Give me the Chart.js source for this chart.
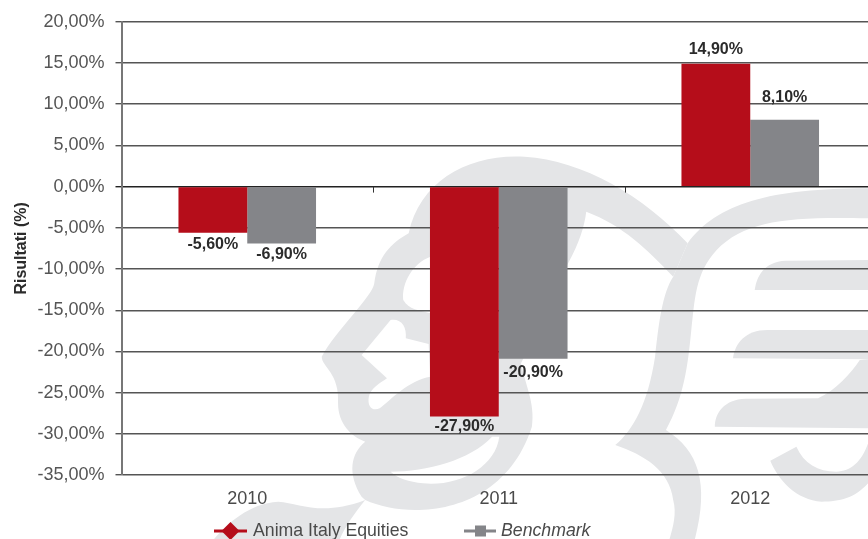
<!DOCTYPE html>
<html><head><meta charset="utf-8">
<style>html,body{margin:0;padding:0;background:#fff;overflow:hidden}#w{width:868px;height:539px;overflow:hidden;position:relative}canvas{display:block}</style>
<script src="https://cdn.jsdelivr.net/npm/chart.js@4"></script>
</head><body><div id="w"><canvas id="c" width="880" height="539" style="width:880px;height:539px"></canvas></div>
<script>
const categories = ['2010','2011','2012'];
const animaValues = [-5.6,-27.9,14.9];
const benchmarkValues = [-6.9,-20.9,8.1];
const seriesNames = ['Anima Italy Equities','Benchmark'];
const yMin = -35, yMax = 20, yStep = 5;
const RED = '#b50d1a', GREY = '#848589', FONT = '"Liberation Sans", Arial, sans-serif';
const fmt = v => v.toFixed(2).replace('.',',') + '%';

const watermark = {
  id:'watermark',
  beforeDraw(ch){
    const c = ch.ctx; c.save();
    c.translate(300,150); c.scale(1/2.76,1/3);
    const shape = (d,col)=>{c.fillStyle=col;c.fill(new Path2D(d));};
    const G='#e4e5e7', W='#ffffff';
    // head silhouette and lower band
    shape('M1070 280 C950 140 780 30 620 20 C470 10 330 90 300 250 C250 280 215 320 205 400 C200 440 100 540 60 620 C60 650 110 670 105 760 C105 820 140 860 180 875 C140 910 130 970 170 1040 L180 1050 C150 1090 125 1130 110 1167 L-237 1167 C-200 1120 -140 1060 -60 1055 C0 1060 60 1100 180 1050 C300 1110 560 1100 640 830 C650 760 620 700 610 640 L740 340 C770 280 785 230 790 185 C890 225 960 300 1030 380 Z',G);
    // mane band
    shape('M1070 280 C1150 160 1300 115 1568 115 L1568 205 C1350 200 1230 210 1150 300 C1090 370 1090 450 1080 540 C1070 650 1060 740 1010 840 C1100 900 1130 1000 1090 1167 L1020 1167 C1030 1130 1040 1090 1030 1050 C1020 960 950 915 870 885 C920 840 960 760 980 620 C990 520 1000 430 1030 380 Z',G);
    // inner face cuts
    shape('M360 320 C310 340 280 400 285 450 C300 480 330 480 360 490 Z',W);
    shape('M250 510 C280 505 295 530 292 565 L355 582 L360 680 C300 690 250 750 220 775 C200 785 185 770 190 740 C195 715 220 700 240 685 L170 615 Z',W);
    shape('M250 965 C350 965 470 930 530 860 L550 860 C540 950 440 1010 340 1000 C300 995 270 985 250 965 Z',W);
    // right-hand mane stripes
    shape('M1255 420 C1260 380 1280 335 1340 332 L1568 330 L1568 420 Z',G);
    shape('M1195 625 C1200 580 1230 540 1290 540 L1568 540 L1568 628 Z',G);
    shape('M1145 830 C1145 790 1170 748 1230 746 L1430 745 C1480 720 1520 670 1545 630 L1568 628 L1568 835 Z',G);
    shape('M1298 932 L1370 890 C1390 940 1430 965 1480 965 C1520 965 1550 935 1568 880 L1568 1000 C1530 1045 1490 1055 1440 1055 C1370 1050 1320 990 1298 932 Z',G);
    c.restore();
  }
};
const overlay = {
  id:'overlay',
  afterDatasetsDraw(ch){
    const c = ch.ctx, sx = ch.scales.x, sy = ch.scales.y, y0 = sy.getPixelForValue(0);
    c.save();
    // category separators on the zero line
    c.strokeStyle='#333'; c.lineWidth=1;
    for(let i=0;i<categories.length-1;i++){
      const x=Math.round((sx.getPixelForTick(i)+sx.getPixelForTick(i+1))/2)+.5;
      c.beginPath();c.moveTo(x,y0);c.lineTo(x,y0+6);c.stroke();
    }
    // value labels: distance from bar end, per category and series
    c.font='bold 16px '+FONT; c.fillStyle='#2b2b2b'; c.textAlign='center'; c.textBaseline='middle';
    const gap=[[12,11],[10,14],[14,22]];
    ch.data.datasets.forEach((ds,d)=>{
      ch.getDatasetMeta(d).data.forEach((el,i)=>{
        const v=ds.data[i];
        c.fillText(fmt(v),el.x,el.y+(v<0?gap[i][d]:-gap[i][d]));
      });
    });
    // legend
    const ly=531;
    c.font='17.7px '+FONT; c.textAlign='left'; c.fillStyle='#4a4a4a';
    c.fillText(seriesNames[0],253,ly);
    c.font='italic 17.7px '+FONT;
    c.fillText(seriesNames[1],501,ly);
    c.lineWidth=3;
    c.strokeStyle=RED;c.beginPath();c.moveTo(214,ly);c.lineTo(247,ly);c.stroke();
    c.fillStyle=RED;c.beginPath();c.moveTo(230.5,ly-9);c.lineTo(239.5,ly);c.lineTo(230.5,ly+9);c.lineTo(221.5,ly);c.closePath();c.fill();
    c.strokeStyle=GREY;c.beginPath();c.moveTo(464,ly);c.lineTo(496,ly);c.stroke();
    c.fillStyle=GREY;c.fillRect(475,ly-5.5,11,11);
    c.restore();
  }
};
new Chart(document.getElementById('c'),{
  type:'bar',
  data:{labels:categories,datasets:[
    {label:seriesNames[0],data:animaValues,backgroundColor:RED,borderWidth:0,categoryPercentage:.547,barPercentage:1},
    {label:seriesNames[1],data:benchmarkValues,backgroundColor:GREY,borderWidth:0,categoryPercentage:.547,barPercentage:1}
  ]},
  options:{
    responsive:false,animation:false,
    layout:{padding:{left:12,top:21,right:4,bottom:0}},
    plugins:{legend:{display:false},tooltip:{enabled:false}},
    scales:{
      x:{
        grid:{display:false},
        border:{display:false},
        afterFit(s){s.height=64;},
        ticks:{color:'#4a4a4a',font:{family:FONT,size:18},padding:5,maxRotation:0}
      },
      y:{
        min:yMin,max:yMax,
        afterFit(s){s.width=109.5;},
        border:{color:'#777',width:2},
        title:{display:true,text:'Risultati (%)',color:'#2b2b2b',font:{family:FONT,size:16,weight:'bold'},padding:{top:0,bottom:0}},
        grid:{color:c=>c.tick&&c.tick.value===0?'#222':'#555',lineWidth:1.4,tickLength:6},
        ticks:{stepSize:yStep,color:'#555',font:{family:FONT,size:18},padding:11,callback:fmt}
      }
    }
  },
  plugins:[watermark,overlay]
});
</script></body></html>
